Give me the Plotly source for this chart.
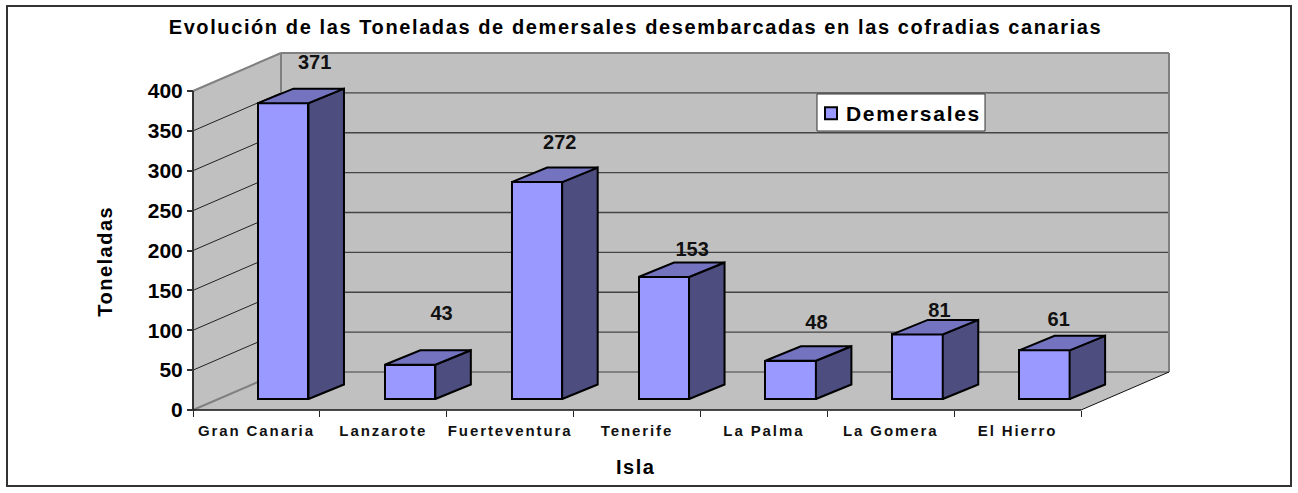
import plotly.graph_objects as go

# ---- data ----
CATEGORIES = ["Gran Canaria", "Lanzarote", "Fuerteventura", "Tenerife", "La Palma", "La Gomera", "El Hierro"]
VALUES = [371, 43, 272, 153, 48, 81, 61]
Y_TICKS = [0, 50, 100, 150, 200, 250, 300, 350, 400]
SERIES = "Demersales"
TITLE = "Evolución de las Toneladas de demersales desembarcadas en las cofradias canarias"
X_TITLE = "Isla"
Y_TITLE = "Toneladas"

# ---- geometry / style ----
W, H = 1298, 493
PX_X0, PX_Y0 = 193.0, 410.0      # pixel of category 0 / value 0
PX_SLOT = 888.0 / 7              # pixels per category
PX_UNIT = 319.0 / 400            # pixels per value unit
DEPTH_PX_X, DEPTH_PX_Y = 88.0, 38.0
DX = DEPTH_PX_X / PX_SLOT
DY = DEPTH_PX_Y / PX_UNIT
BAR_D0 = 12 / 38
BAR_W = 50.5 / PX_SLOT
BAR_SHIFT = -1.0 / PX_SLOT
BAR_DEPTH_X = 35.5 / PX_SLOT
BAR_DEPTH_Y = 14.5 / PX_UNIT
BAR_LIFT = -1.0 / PX_UNIT
# label offsets from the bar centre/top (category units, value units)
LABEL_DX = [0.248, 0.248, 0.180, 0.223, 0.203, 0.173, 0.113]
LABEL_DY = [63, 76.5, 61.5, 46.8, 59.3, 42.5, 50.5]

WALL = "#C0C0C0"
EDGE = "#808080"
FRONT = "#9999FF"
SIDE = "#4D4D80"
TOP = "#7373BF"
FONT = "Liberation Sans"

# plot area pixels (padding so that edge lines are not clipped)
PL, PR, PT, PB = 183.0, 1175.0, 47.0, 416.0
x_range = [(PL - PX_X0) / PX_SLOT, (PR - PX_X0) / PX_SLOT]
y_range = [(PX_Y0 - PB) / PX_UNIT, (PX_Y0 - PT) / PX_UNIT]


def proj(i, v, d=0.0):
    return i + d * DX, v + d * DY


def path(points):
    return "M " + " L ".join(f"{x:.4f},{y:.4f}" for x, y in points) + " Z"


def paper_x(px):
    return (px - PL) / (PR - PL)


def paper_y(px):
    return (PB - px) / (PB - PT)


def data_x(px):
    return (px - PX_X0) / PX_SLOT


def data_y(px):
    return (PX_Y0 - px) / PX_UNIT


n = len(CATEGORIES)
top_v = Y_TICKS[-1]
shapes = [
    dict(type="rect", xref="paper", yref="paper", x0=paper_x(7), x1=paper_x(1291),
         y0=paper_y(486), y1=paper_y(6), line=dict(color="#333333", width=2), fillcolor="white", layer="below"),
    dict(type="path", path=path([proj(0, 0), proj(0, top_v), proj(0, top_v, 1), proj(0, 0, 1)]),
         fillcolor=WALL, line=dict(width=0), layer="below"),
    dict(type="path", path=path([proj(0, 0, 1), proj(0, top_v, 1), proj(n, top_v, 1), proj(n, 0, 1)]),
         fillcolor=WALL, line=dict(width=0), layer="below"),
    dict(type="path", path=path([proj(0, 0), proj(n, 0), proj(n, 0, 1), proj(0, 0, 1)]),
         fillcolor=WALL, line=dict(width=0), layer="below"),
]


def seg(a, b, color, width):
    return dict(type="line", x0=a[0], y0=a[1], x1=b[0], y1=b[1],
                line=dict(color=color, width=width), layer="below")


for v in Y_TICKS[1:-1]:
    shapes.append(seg(proj(0, v), proj(0, v, 1), "#222222", 1))
    shapes.append(seg(proj(0, v, 1), proj(n, v, 1), "#444444", 1.3))
shapes += [
    seg(proj(0, 0), proj(0, 0, 1), EDGE, 2),
    seg(proj(0, top_v), proj(0, top_v, 1), EDGE, 2),
    seg(proj(0, 0, 1), proj(0, top_v, 1), EDGE, 2),
    seg(proj(0, top_v, 1), proj(n, top_v, 1), EDGE, 2),
    seg(proj(n, 0, 1), proj(n, top_v, 1), EDGE, 2),
    seg(proj(0, 0, 1), proj(n, 0, 1), EDGE, 2),
    seg(proj(n, 0), proj(n, 0, 1), "#111111", 1),
    seg(proj(0, 0), proj(0, top_v), "#333333", 2),
    seg(proj(0, 0), proj(n, 0), "#111111", 1.3),
    # legend box
    dict(type="rect", x0=data_x(817), x1=data_x(985), y0=data_y(131), y1=data_y(94),
         line=dict(color="#333333", width=1), fillcolor="white", layer="below"),
]

centers = [i + 0.5 for i in range(n)]
bar_x = [proj(c, 0, BAR_D0)[0] + BAR_SHIFT for c in centers]
base_v = proj(0, 0, BAR_D0)[1] + BAR_LIFT

fig = go.Figure()
fig.add_trace(go.Bar(
    x=bar_x, y=VALUES, base=[base_v] * n, width=[BAR_W] * n, name=SERIES,
    marker=dict(color=FRONT, line=dict(color="black", width=2)),
    showlegend=True, hoverinfo="skip",
))


def faces(kind):
    xs, ys = [], []
    for c, v in zip(bar_x, VALUES):
        l = c - BAR_W / 2
        r = c + BAR_W / 2
        t = base_v + v
        if kind == "side":
            pts = [(r, base_v), (r + BAR_DEPTH_X, base_v + BAR_DEPTH_Y),
                   (r + BAR_DEPTH_X, t + BAR_DEPTH_Y), (r, t)]
        else:
            pts = [(l, t), (r, t), (r + BAR_DEPTH_X, t + BAR_DEPTH_Y), (l + BAR_DEPTH_X, t + BAR_DEPTH_Y)]
        pts.append(pts[0])
        xs += [p[0] for p in pts] + [None]
        ys += [p[1] for p in pts] + [None]
    return xs, ys


for kind, color in (("side", SIDE), ("top", TOP)):
    xs, ys = faces(kind)
    fig.add_trace(go.Scatter(x=xs, y=ys, mode="lines", fill="toself", fillcolor=color,
                             line=dict(color="black", width=2), showlegend=False, hoverinfo="skip"))

fig.add_trace(go.Scatter(
    x=[b + dx for b, dx in zip(bar_x, LABEL_DX)],
    y=[v + dy for v, dy in zip(VALUES, LABEL_DY)],
    mode="text", text=[str(v) for v in VALUES], textposition="middle center",
    textfont=dict(family=FONT, size=20, color="#111111", weight="bold"),
    showlegend=False, hoverinfo="skip", cliponaxis=False,
))

fig.update_layout(
    width=W, height=H, autosize=False,
    margin=dict(l=PL, r=W - PR, t=PT, b=H - PB, pad=0),
    paper_bgcolor="white", plot_bgcolor="rgba(0,0,0,0)",
    font=dict(family=FONT, color="black"),
    title=dict(text=TITLE, x=635.5 / W, xanchor="center", y=1 - 27 / H, yanchor="middle",
               font=dict(family=FONT, size=20, color="black", weight="bold")),
    shapes=shapes,
    bargap=0,
    legend=dict(x=paper_x(811), y=paper_y(93), xanchor="left", yanchor="top",
                bgcolor="rgba(0,0,0,0)", borderwidth=0,
                font=dict(family=FONT, size=21, color="black", weight="bold"),
                entrywidth=170, entrywidthmode="pixels", itemwidth=30),
    xaxis=dict(
        range=x_range, anchor="free", position=paper_y(PX_Y0),
        showgrid=False, zeroline=False, showline=False, fixedrange=True,
        tickmode="array", tickvals=centers, ticktext=CATEGORIES,
        ticks="outside", ticklen=7, tickcolor="rgba(0,0,0,0)",
        tickfont=dict(family=FONT, size=15, color="#111111", weight="bold"),
        minor=dict(tickmode="array", tickvals=list(range(n + 1)), ticks="outside",
                   ticklen=6, tickcolor="#222222", tickwidth=1, showgrid=False),
    ),
    yaxis=dict(
        range=y_range, anchor="free", position=paper_x(PX_X0),
        showgrid=False, zeroline=False, showline=False, fixedrange=True,
        tickmode="array", tickvals=Y_TICKS, ticktext=[str(t) for t in Y_TICKS],
        ticks="outside", ticklen=6, tickcolor="#333333", tickwidth=1.5,
        tickfont=dict(family=FONT, size=21, color="black", weight="bold"),
    ),
    annotations=[
        dict(text=f"<b>{Y_TITLE}</b>", xref="paper", yref="paper", x=paper_x(105), y=paper_y(262),
             showarrow=False, textangle=-90, xanchor="center", yanchor="middle",
             font=dict(family=FONT, size=20, color="black")),
        dict(text=f"<b>{X_TITLE}</b>", xref="paper", yref="paper", x=paper_x(636), y=paper_y(467),
             showarrow=False, xanchor="center", yanchor="middle",
             font=dict(family=FONT, size=20, color="black")),
    ],
)

CSS = (".xtick text{letter-spacing:1.9px}"
       ".legendtext{letter-spacing:1.7px;transform:translateX(-5px)}"
       ".legend .scrollbox,.legend .groups,.legend .traces{clip-path:none !important}"
       ".gtitle{letter-spacing:1.6px}"
       ".annotation-text{letter-spacing:1.5px}")
POST = ("document.documentElement.style.overflow='hidden';document.body.style.margin='0';"
        "var s=document.createElement('style');s.textContent=%r;document.head.appendChild(s);" % CSS)
fig.write_html("out.html", post_script=POST, config={"displayModeBar": False})
